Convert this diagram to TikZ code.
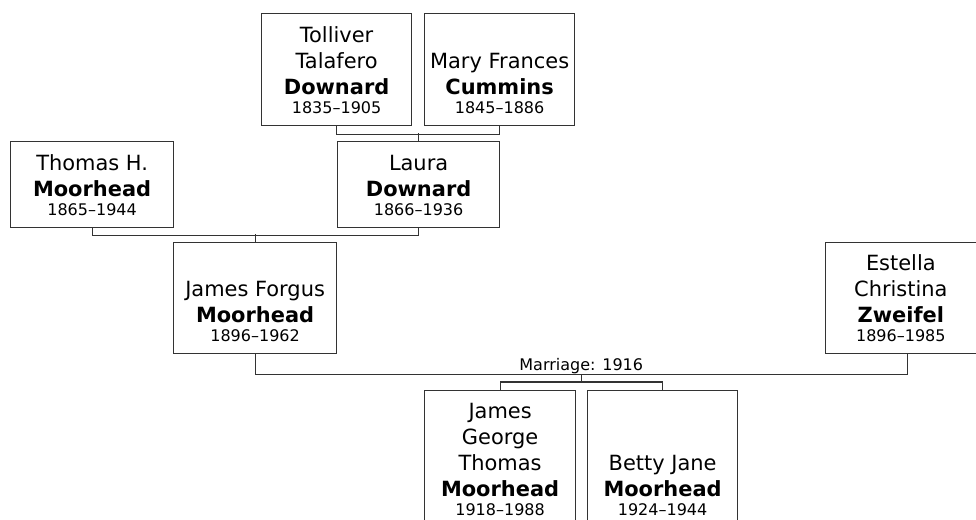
\documentclass[tikz,border=0pt]{standalone}
\usepackage{fontspec}
\setmainfont{DejaVu Sans}
\usetikzlibrary{calc}
\newcommand{\nm}{\fontsize{15.7}{19.6}\selectfont}
\newcommand{\dt}[1]{\\[-5.3pt]{\fontsize{12}{14}\selectfont #1}}
\begin{document}
\begin{tikzpicture}[x=0.75pt,y=-0.75pt,
  pbox/.style={draw=black!80, line width=0.9pt, inner sep=0pt, anchor=north west},
  ptext/.style={inner sep=0pt, anchor=south, align=center, font=\nm, text=black},
  link/.style={draw=black!80, line width=0.9pt}]
\useasboundingbox (0,0) rectangle (976,520);
% boxes
\node[pbox, minimum width=112.5pt, minimum height=84pt] (tt) at (261,13) {};
\node[pbox, minimum width=112.5pt, minimum height=84pt] (mc) at (424,13) {};
\node[pbox, minimum width=121.5pt, minimum height=64.5pt] (ld) at (337,141) {};
\node[pbox, minimum width=122.25pt, minimum height=64.5pt] (tm) at (10,141) {};
\node[pbox, minimum width=122.25pt, minimum height=83.25pt] (jf) at (173,242) {};
\node[pbox, minimum width=112.875pt, minimum height=83.25pt] (ez) at (825,242) {};
\node[pbox, minimum width=113.25pt, minimum height=102.75pt] (jg) at (424,390) {};
\node[pbox, minimum width=112.5pt, minimum height=102.75pt] (bj) at (587,390) {};
% texts
\node[ptext] (ttt) at ($(tt.south)+(0,-12)$) {Tolliver\\Talafero\\\textbf{Downard}\dt{1835–1905}};
\node[ptext] (mct) at ($(mc.south)+(0,-12)$) {Mary Frances\\\textbf{Cummins}\dt{1845–1886}};
\node[ptext] (ldt) at ($(ld.south)+(0,-12)$) {Laura\\\textbf{Downard}\dt{1866–1936}};
\node[ptext] (tmt) at ($(tm.south)+(0,-12)$) {Thomas H.\\\textbf{Moorhead}\dt{1865–1944}};
\node[ptext] (jft) at ($(jf.south)+(0,-12)$) {James Forgus\\\textbf{Moorhead}\dt{1896–1962}};
\node[ptext] (ezt) at ($(ez.south)+(0,-12)$) {Estella\\Christina\\\textbf{Zweifel}\dt{1896–1985}};
\node[ptext] (jgt) at ($(jg.south)+(0,-12)$) {James\\George\\Thomas\\\textbf{Moorhead}\dt{1918–1988}};
\node[ptext] (bjt) at ($(bj.south)+(0,-12)$) {Betty Jane\\\textbf{Moorhead}\dt{1924–1944}};
% connectors
\draw[link] (tt.south) -- ++(0,8) -| (mc.south);
\draw[link] (ld.north) -- ++(0,-8);
\draw[link] (tm.south) -- ++(0,7) -| (ld.south);
\draw[link] (jf.north) -- ++(0,-8);
\coordinate (ezb) at ($(ez.south)+(6.5,0)$);
\draw[link] (jf.south) -- ++(0,20) coordinate (ml) -| (ezb);
\coordinate (mm) at ($(ml)!0.5!(ml -| ezb)$);
\node[inner sep=0pt, anchor=base, font=\fontsize{12}{14}\selectfont] (mlab) at ($(mm)+(0,-3.5)$) {Marriage: 1916};
\draw[link] (mm) -- ++(0,9);
\draw[link] (jg.north) -- ++(0,-8) -| (bj.north);
\end{tikzpicture}
\end{document}
